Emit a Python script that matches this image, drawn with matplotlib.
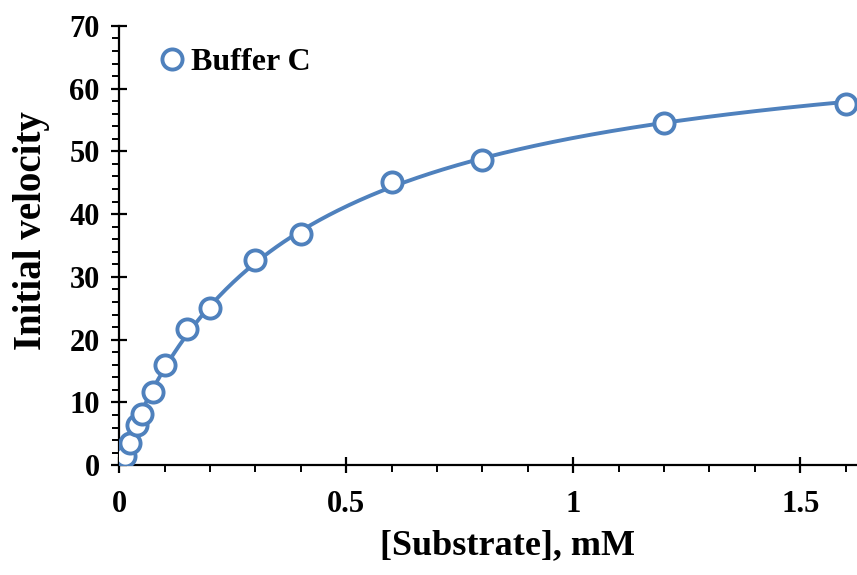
import matplotlib
matplotlib.use('Agg')
import matplotlib.pyplot as plt
import numpy as np

substrate = [0.0125, 0.025, 0.04, 0.05, 0.075, 0.1, 0.15, 0.2, 0.3, 0.4, 0.6, 0.8, 1.2, 1.6]
velocity = [1.4, 3.5, 6.4, 8.2, 11.6, 16.0, 21.7, 25.0, 32.7, 36.9, 45.1, 48.6, 54.6, 57.6]
series_name = "Buffer C"

blue = "#4F81BD"
plt.rcParams['font.family'] = ['Liberation Serif', 'DejaVu Serif']
plt.rcParams['font.weight'] = 'bold'

# Michaelis-Menten fit of the points (Km by grid search, Vmax closed form)
s = np.array(substrate)
v = np.array(velocity)
best = None
for km in np.linspace(0.05, 1.5, 2901):
    f = s / (km + s)
    vmax = np.dot(f, v) / np.dot(f, f)
    err = np.sum((vmax * f - v) ** 2)
    if best is None or err < best[0]:
        best = (err, km, vmax)
_, km, vmax = best
xs = np.linspace(s.min(), s.max(), 400)
ys = vmax * xs / (km + xs)

fig = plt.figure(figsize=(8.57, 5.75), dpi=100)
ax = fig.add_axes([0.139, 0.191, 0.861, 0.764])
ax.plot(xs, ys, color=blue, lw=2.8, zorder=2)
ax.plot(s, v, 'o', color=blue, mfc='white', mec=blue, ms=14.5, mew=2.8,
        label=series_name, zorder=3)

ax.set_xlim(0, 1.625)
ax.set_ylim(0, 70)
ax.set_xticks([0, 0.5, 1, 1.5])
ax.set_xticklabels(['0', '0.5', '1', '1.5'])
ax.set_xticks(np.arange(0, 1.61, 0.1), minor=True)
ax.set_yticks(np.arange(0, 71, 10))
ax.set_yticks(np.arange(0, 71, 2), minor=True)

for sp in ['top', 'right']:
    ax.spines[sp].set_visible(False)
for sp in ['left', 'bottom']:
    ax.spines[sp].set_linewidth(1.6)

ax.tick_params(which='major', direction='inout', length=12, width=1.6,
               labelsize=22)
ax.tick_params(which='minor', direction='out', length=5, width=1.4)
ax.tick_params(axis='x', which='major', pad=12)
ax.tick_params(axis='y', which='major', pad=8)

ax.set_xlabel('[Substrate], mM', fontsize=26, fontweight='bold')
ax.set_ylabel('Initial velocity', fontsize=28, fontweight='bold')
ax.xaxis.set_label_coords(0.526, -0.145)
ax.yaxis.set_label_coords(-0.094, 0.535)

leg = ax.legend(loc='upper left', bbox_to_anchor=(0.02, 1.015), frameon=False,
                handlelength=0.6, handletextpad=0.3,
                prop={'weight': 'bold', 'size': 23})

plt.savefig('out.png', dpi=100)
plt.close()
